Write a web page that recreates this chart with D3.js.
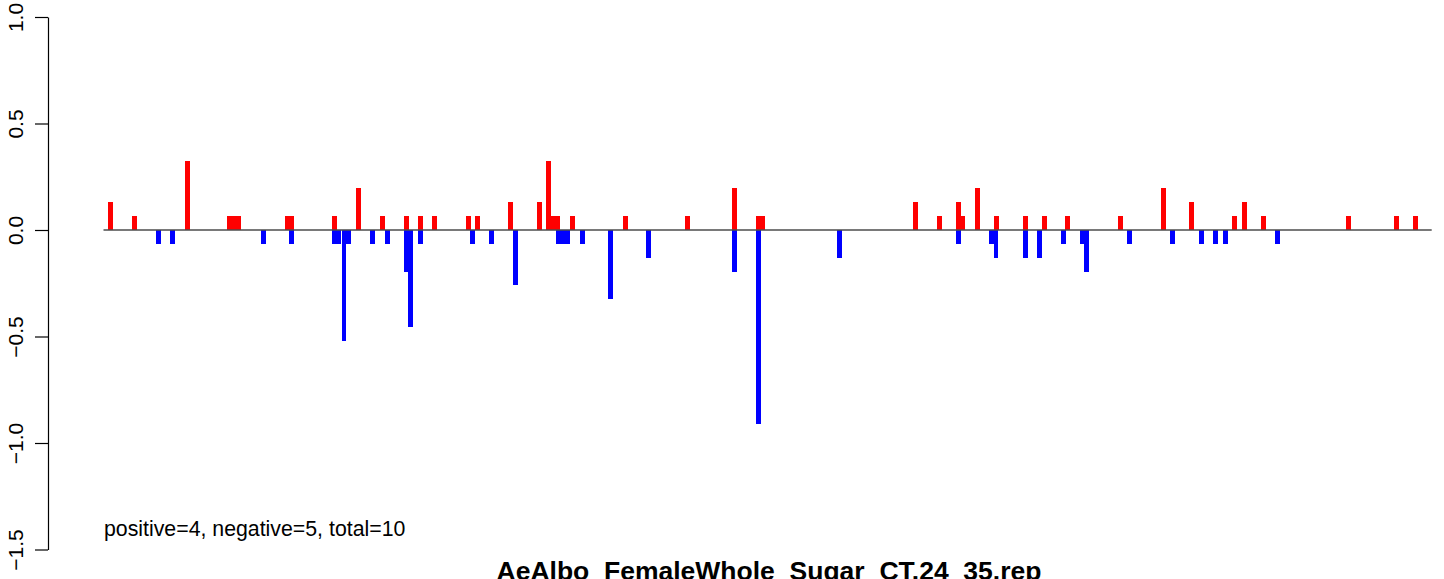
<!DOCTYPE html>
<html>
<head>
<meta charset="utf-8">
<script src="https://cdn.jsdelivr.net/npm/d3@7"></script>
<style>
  body { margin: 0; background: #fff; }
  svg { display: block; font-family: "Liberation Sans", Arial, sans-serif; }
</style>
</head>
<body>
<div id="chart"></div>
<script>
// Positions along the track and scores
const posRed = [110.3, 134.3, 187.3, 229.4, 234.1, 238.8, 287.5, 291.5, 334.3, 358.3,
  382.3, 406.3, 420.3, 434.3, 468.3, 477.3, 510.3, 539.3, 548.3, 553.0,
  557.7, 572.3, 625.3, 687.3, 734.3, 758.3, 763.0, 915.3, 939.3, 958.3,
  963.1, 977.3, 996.3, 1025.3, 1044.3, 1067.3, 1120.3, 1163.3, 1191.3, 1234.3,
  1244.3, 1263.3, 1348.3, 1396.3, 1415.3];
const valRed = [0.13, 0.065, 0.325, 0.065, 0.065, 0.065, 0.065, 0.065, 0.065, 0.195,
  0.065, 0.065, 0.065, 0.065, 0.065, 0.065, 0.13, 0.13, 0.325, 0.065,
  0.065, 0.065, 0.065, 0.065, 0.195, 0.065, 0.065, 0.13, 0.065, 0.13,
  0.065, 0.195, 0.065, 0.065, 0.065, 0.065, 0.065, 0.195, 0.13, 0.065,
  0.13, 0.065, 0.065, 0.065, 0.065];

const posBlue = [158.5, 172.3, 263.3, 291.3, 334.3, 339.0, 343.9, 348.6, 372.3, 387.3,
  406.3, 410.4, 420.3, 472.3, 491.3, 515.3, 558.4, 563.1, 567.8, 582.3,
  610.3, 648.3, 734.3, 758.3, 839.3, 958.3, 991.4, 996.1, 1025.3, 1039.3,
  1063.3, 1082.3, 1086.5, 1129.3, 1172.3, 1201.3, 1215.3, 1225.3, 1277.3];
const valBlue = [-0.065, -0.065, -0.065, -0.065, -0.065, -0.065, -0.52, -0.065, -0.065, -0.065,
  -0.195, -0.455, -0.065, -0.065, -0.065, -0.26, -0.065, -0.065, -0.065, -0.065,
  -0.325, -0.13, -0.195, -0.91, -0.13, -0.065, -0.065, -0.13, -0.13, -0.13,
  -0.065, -0.065, -0.195, -0.065, -0.065, -0.065, -0.065, -0.065, -0.065];

const trackExtent = [103.5, 1431.7];
const yTicks = [1.0, 0.5, 0.0, -0.5, -1.0, -1.5];
const countsLabel = "positive=4, negative=5, total=10";
const title = "AeAlbo_FemaleWhole_Sugar_CT.24_35.rep";

const width = 1444, height = 579;
const barW = 4.7;

const x = d3.scaleLinear().domain(trackExtent).range([103.5, 1431.7]);
const y = d3.scaleLinear().domain([-1.5, 1.0]).range([549.5, 17]);

const svg = d3.select("#chart").append("svg")
    .attr("width", width)
    .attr("height", height);

const red = posRed.map((p, i) => ({ p, v: valRed[i] }));
const blue = posBlue.map((p, i) => ({ p, v: valBlue[i] }));

// bars (crisp so that neighbouring bars merge into blocks)
svg.append("g").attr("shape-rendering", "crispEdges")
  .selectAll("rect")
  .data(blue)
  .join("rect")
    .attr("x", d => x(d.p) - barW / 2)
    .attr("y", y(0))
    .attr("width", barW)
    .attr("height", d => y(d.v) - y(0))
    .attr("fill", "#0000ff");

svg.append("g").attr("shape-rendering", "crispEdges")
  .selectAll("rect")
  .data(red)
  .join("rect")
    .attr("x", d => x(d.p) - barW / 2)
    .attr("y", d => y(d.v))
    .attr("width", barW)
    .attr("height", d => y(0) - y(d.v))
    .attr("fill", "#ff0000");

// zero line
svg.append("line")
    .attr("x1", x(trackExtent[0]))
    .attr("x2", x(trackExtent[1]))
    .attr("y1", y(0))
    .attr("y2", y(0))
    .attr("stroke", "#4d4d4d")
    .attr("stroke-width", 1.3);

// y axis, R style
const fmt = d => d3.format(".1f")(d).replace("-", "\u2212");
const yAxis = d3.axisLeft(y)
    .tickValues(yTicks)
    .tickFormat(fmt)
    .tickSize(13)
    .tickSizeOuter(0);

const gy = svg.append("g")
    .attr("transform", "translate(48,0)")
    .call(yAxis);
gy.select(".domain").attr("stroke", "#000").attr("stroke-width", 1.2);
gy.selectAll(".tick line").attr("stroke", "#000").attr("stroke-width", 1.2);
gy.selectAll(".tick text")
    .attr("font-family", "Liberation Sans, Arial, sans-serif")
    .attr("font-size", 21)
    .attr("fill", "#000")
    .attr("x", null)
    .attr("dy", null)
    .attr("text-anchor", "middle")
    .attr("transform", "translate(-25,0) rotate(-90)")
    .attr("y", 0);

// annotation
svg.append("text")
    .attr("x", 104)
    .attr("y", 536)
    .attr("font-size", 21.3)
    .attr("fill", "#000")
    .text(countsLabel);

// title (runs off the bottom edge, as in the source image)
svg.append("text")
    .attr("x", 769)
    .attr("y", 580)
    .attr("text-anchor", "middle")
    .attr("font-size", 26.5)
    .attr("font-weight", "bold")
    .attr("fill", "#000")
    .text(title);
</script>
</body>
</html>
